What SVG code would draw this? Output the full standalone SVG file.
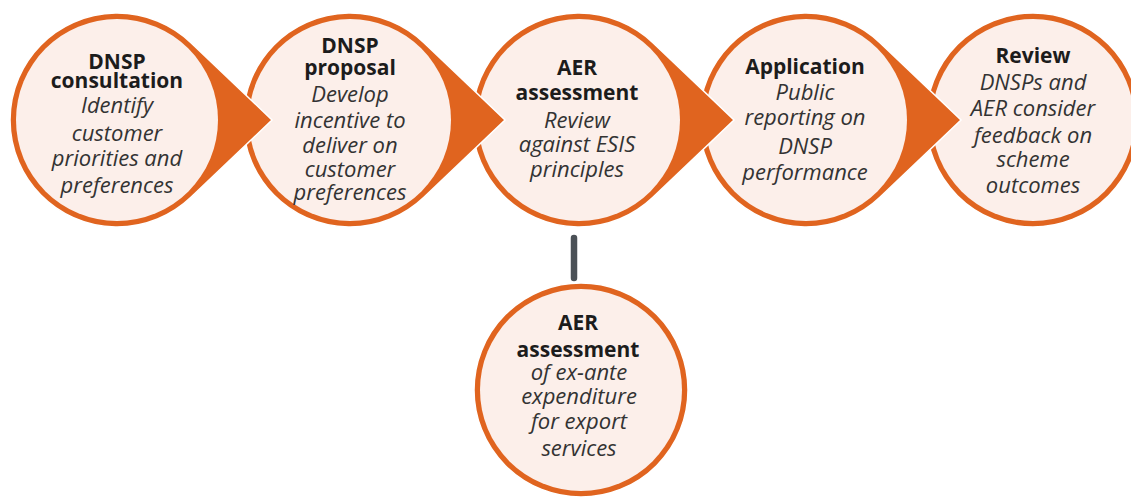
<svg xmlns="http://www.w3.org/2000/svg" width="1131" height="497" viewBox="0 0 1131 497">
  <style>
    .ring { fill: #E0641F; stroke: #ffffff; stroke-width: 1.5; }
    .inner { fill: #FCEFEA; }
    .head { font-family: "Open Sans", "Liberation Sans", sans-serif; font-weight: 700; font-size: 21px; fill: #1c1c1c; text-anchor: middle; }
    .body { font-family: "Open Sans", "Liberation Sans", sans-serif; font-style: italic; font-size: 22px; fill: #333333; text-anchor: middle; }
    .link { stroke: #4B5157; stroke-width: 6.5; stroke-linecap: round; fill: none; }
  </style>
  <defs>
    <!-- circle with a pointed tab on its right, centred on the origin -->
    <path id="drop" d="M73.9,-77.4 L155,0 L73.9,77.4 A107,107 0 1 1 73.9,-77.4 Z"/>
  </defs>
  <rect width="1131" height="497" fill="#ffffff"/>

  <!-- connector -->
  <g id="connectors">
    <line class="link" x1="574" y1="238" x2="574" y2="278"/>
  </g>

  <!-- bottom step -->
  <g id="node-export">
    <circle class="ring" cx="581" cy="390" r="107"/>
    <circle class="inner" cx="581" cy="390" r="101"/>
    <text class="head" x="578" y="330">AER</text>
    <text class="head" x="578" y="357">assessment</text>
    <text class="body" x="579" y="380">of ex-ante</text>
    <text class="body" x="579" y="404">expenditure</text>
    <text class="body" x="579" y="429">for export</text>
    <text class="body" x="579" y="456">services</text>
  </g>

  <!-- top row, drawn right to left so each tab lies over the next circle -->
  <g id="node-review">
    <circle class="ring" cx="1033" cy="120" r="107"/>
    <circle class="inner" cx="1033" cy="120" r="101"/>
    <text class="head" x="1033" y="63">Review</text>
    <text class="body" x="1033" y="90">DNSPs and</text>
    <text class="body" x="1033" y="116">AER consider</text>
    <text class="body" x="1033" y="143">feedback on</text>
    <text class="body" x="1033" y="167">scheme</text>
    <text class="body" x="1033" y="193">outcomes</text>
  </g>

  <g id="node-application">
    <use href="#drop" class="ring" x="806" y="120"/>
    <circle class="inner" cx="806" cy="120" r="101"/>
    <text class="head" x="805" y="74">Application</text>
    <text class="body" x="805" y="100">Public</text>
    <text class="body" x="805" y="125">reporting on</text>
    <text class="body" x="805" y="154">DNSP</text>
    <text class="body" x="805" y="180">performance</text>
  </g>

  <g id="node-assessment">
    <use href="#drop" class="ring" x="579" y="120"/>
    <circle class="inner" cx="579" cy="120" r="101"/>
    <text class="head" x="577" y="75">AER</text>
    <text class="head" x="577" y="100">assessment</text>
    <text class="body" x="577" y="128">Review</text>
    <text class="body" x="577" y="152">against ESIS</text>
    <text class="body" x="577" y="177">principles</text>
  </g>

  <g id="node-proposal">
    <use href="#drop" class="ring" x="350" y="120"/>
    <circle class="inner" cx="350" cy="120" r="101"/>
    <text class="head" x="350" y="53">DNSP</text>
    <text class="head" x="350" y="75">proposal</text>
    <text class="body" x="350" y="102">Develop</text>
    <text class="body" x="350" y="128">incentive to</text>
    <text class="body" x="350" y="153">deliver on</text>
    <text class="body" x="350" y="177">customer</text>
    <text class="body" x="350" y="200">preferences</text>
  </g>

  <g id="node-consultation">
    <use href="#drop" class="ring" x="117" y="120"/>
    <circle class="inner" cx="117" cy="120" r="101"/>
    <text class="head" x="117" y="69">DNSP</text>
    <text class="head" x="117" y="88">consultation</text>
    <text class="body" x="117" y="113">Identify</text>
    <text class="body" x="117" y="141">customer</text>
    <text class="body" x="117" y="166">priorities and</text>
    <text class="body" x="117" y="193">preferences</text>
  </g>
</svg>
